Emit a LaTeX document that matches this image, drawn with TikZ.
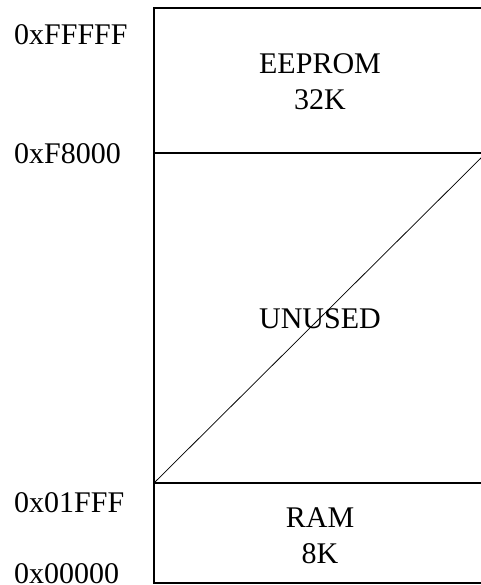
\documentclass[tikz,border=0pt]{standalone}
\usepackage{fontspec}
\setmainfont{Liberation Serif}
\begin{document}
\begin{tikzpicture}[x=1bp, y=-1bp,
    every node/.style={font=\fontsize{30bp}{36bp}\selectfont, inner sep=0pt},
    addr/.style={anchor=base west},
    region/.style={align=center, anchor=center},
    border/.style={line width=2bp}]
    \useasboundingbox (0,0) rectangle (481,585);

    % Corners of the memory map
    \coordinate (top left) at (154,8);
    \coordinate (top right) at (486,8);
    \coordinate (eeprom left) at (154,153);
    \coordinate (eeprom right) at (486,153);
    \coordinate (ram left) at (154,483);
    \coordinate (ram right) at (486,483);
    \coordinate (bottom left) at (154,583);
    \coordinate (bottom right) at (486,583);

    % Outline and region borders
    \draw[border] (top left) rectangle (bottom right);
    \draw[border] (eeprom left) -- (eeprom right);
    \draw[border] (ram left) -- (ram right);

    % Unused area is crossed out
    \draw[line width=0.75bp] (ram left) -- (eeprom right);

    % Region labels
    \node[region] (eeprom) at (320,82) {EEPROM\\32K};
    \node[region, anchor=base] (unused) at (320,328) {UNUSED};
    \node[region] (ram) at (320,536) {RAM\\8K};

    % Addresses
    \node[addr] (a-fffff) at (14,45) {0xFFFFF};
    \node[addr] (a-f8000) at (14,164) {0xF8000};
    \node[addr] (a-01fff) at (14,512) {0x01FFF};
    \node[addr] (a-00000) at (14,583) {0x00000};
\end{tikzpicture}
\end{document}
